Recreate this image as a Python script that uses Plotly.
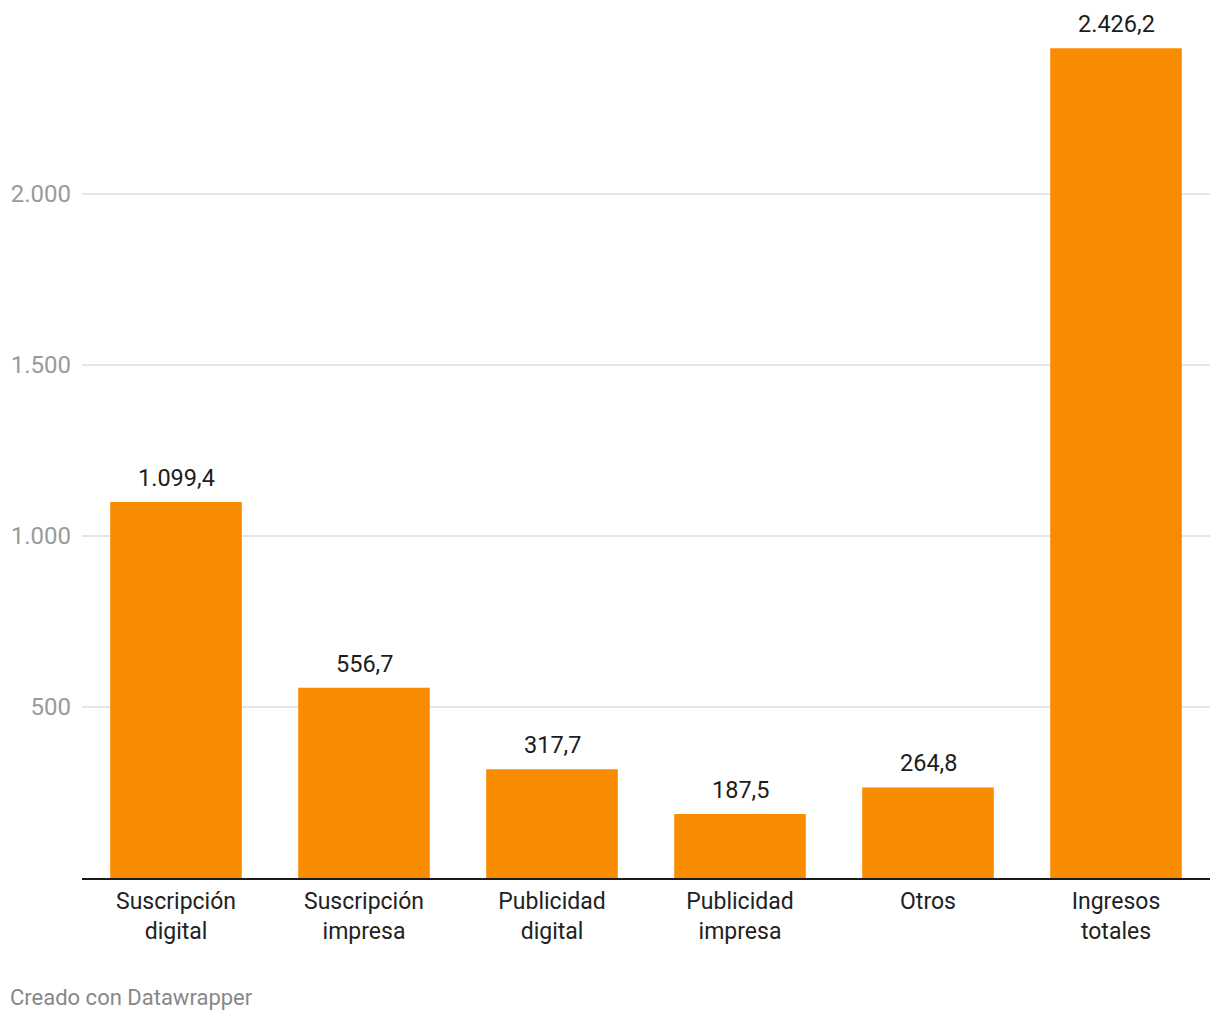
import plotly.graph_objects as go

categories = ["Suscripción<br>digital", "Suscripción<br>impresa", "Publicidad<br>digital",
              "Publicidad<br>impresa", "Otros", "Ingresos<br>totales"]
values = [1099.4, 556.7, 317.7, 187.5, 264.8, 2426.2]
y_ticks = [500, 1000, 1500, 2000]

BAR = "#F98B00"

fig = go.Figure()
fig.add_trace(go.Bar(
    x=categories, y=values, marker=dict(color=BAR, line=dict(width=0)),
    hoverinfo="skip",
))

for c, v in zip(categories, values):
    fig.add_annotation(
        x=c, y=v, text=f"{v:,.1f}".replace(",", "X").replace(".", ",").replace("X", "."),
        showarrow=False, yanchor="bottom", yshift=8,
        font=dict(family="Roboto", size=23.5, color="#1d1d1d"),
    )

fig.add_annotation(
    xref="paper", yref="paper", x=-74/1128, y=-(997-877.6)/857.6,
    xanchor="left", yanchor="middle", text="Creado con Datawrapper", showarrow=False,
    font=dict(family="Roboto", size=22, color="#888888"),
)

fig.update_layout(
    width=1220, height=1020,
    margin=dict(l=82, r=10, t=20, b=142.4),
    plot_bgcolor="white", paper_bgcolor="white",
    separators=",.",
    bargap=0.3,
    showlegend=False,
    font=dict(family="Roboto"),
    xaxis=dict(
        showline=True, linecolor="#1a1a1a", linewidth=2, ticks="",
        tickfont=dict(family="Roboto", size=23, color="#222222"),
        ticklabelstandoff=1, showgrid=False, fixedrange=True,
    ),
    yaxis=dict(
        range=[0, 2509], tickvals=y_ticks, tickformat=",d",
        showgrid=True, gridcolor="#e6e6e6", gridwidth=1.5, zeroline=False,
        showline=False, ticks="",
        tickfont=dict(family="Roboto", size=24, color="#9a9a9a"),
        ticklabelstandoff=10, fixedrange=True,
    ),
)

fig.write_html("out.html")
